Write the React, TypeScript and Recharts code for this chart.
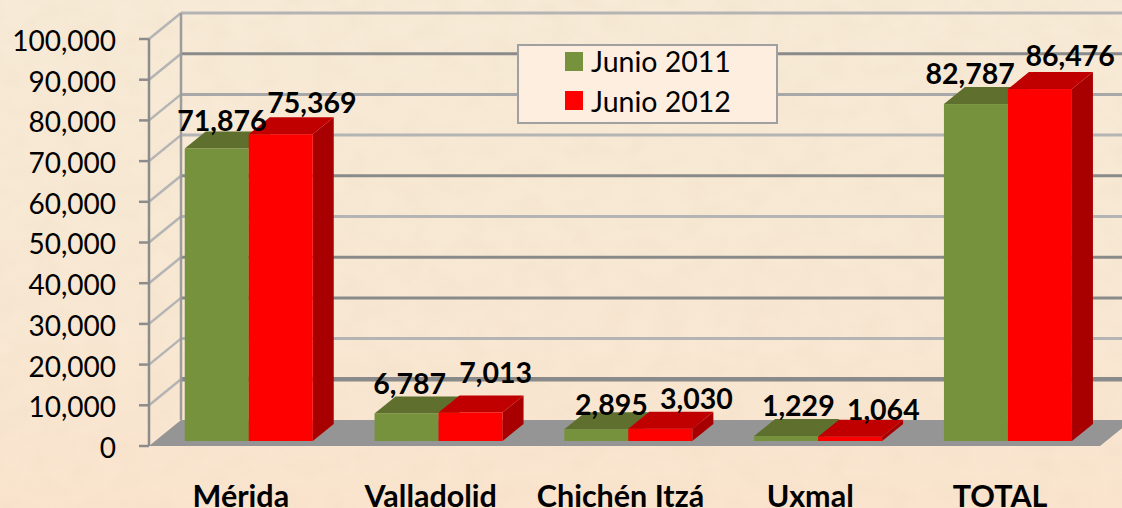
import { ComposedChart, Bar, Line, XAxis, YAxis, CartesianGrid, Legend, LabelList } from 'recharts'

const categories = ['Mérida', 'Valladolid', 'Chichén Itzá', 'Uxmal', 'TOTAL']
const junio2011 = [71876, 6787, 2895, 1229, 82787]
const junio2012 = [75369, 7013, 3030, 1064, 86476]
const yTicks = [0, 10000, 20000, 30000, 40000, 50000, 60000, 70000, 80000, 90000, 100000]

const rows = categories.map((name, i) => ({ name, a: junio2011[i], b: junio2012[i] }))

// label nudges from the bar group centre, the source chart placed these by hand
const nudge2011 = [[-22, -33], [-24, -35], [-12, -30], [-15, -36], [-33, -36]]
const nudge2012 = [[68, -37], [62, -45], [73, -36], [70, -33], [67, -39]]

const FONT = 'Lato, sans-serif'
const WALL_DX = 32
const WALL_DY = -26
const GRID_COLORS = ['#a8a8a8', '#8a8a8a', '#b4b4b4', '#8a8a8a', '#8a8a8a', '#b4b4b4', '#8a8a8a', '#b4b4b4', '#a8a8a8', '#8a8a8a', '#b4b4b4']

function GridLine(props: any) {
  const { x1, x2, y1, index } = props
  const isFloor = Math.abs(y1 - 446) < 1
  const isTop = Math.abs(y1 - 39) < 1
  const level = Math.round((446 - y1) / 40.7)
  const color = GRID_COLORS[level] ?? '#a0a0a0'
  return (
    <g key={index}>
      {isFloor && (
        <polygon
          points={`${x1},${y1} ${x2 + 2},${y1} ${x2 + 2 + WALL_DX},${y1 + WALL_DY} ${x1 + WALL_DX},${y1 + WALL_DY}`}
          fill="#959595"
        />
      )}
      {!isFloor && <line x1={x1 + WALL_DX} y1={y1 + WALL_DY} x2={1122} y2={y1 + WALL_DY} stroke={color} strokeWidth={level === 1 ? 4.5 : 3} />}
      {!isFloor && <line x1={x1} y1={y1} x2={x1 + WALL_DX} y2={y1 + WALL_DY} stroke="#b4b4b4" strokeWidth={2.5} />}
      {isTop && <line x1={x1 + WALL_DX} y1={y1 + WALL_DY} x2={x1 + WALL_DX} y2={446 + WALL_DY} stroke="#9c9c9c" strokeWidth={2.5} />}
    </g>
  )
}

function Box3D(props: any) {
  const { x, y, width, height, fill, topFill, sideFill } = props
  const dx = 21
  const dy = -17
  const fx = x + 5
  const fy = y - 5
  return (
    <g>
      <polygon points={`${fx + width},${fy} ${fx + width + dx},${fy + dy} ${fx + width + dx},${fy + height + dy} ${fx + width},${fy + height}`} fill={sideFill} />
      <polygon points={`${fx},${fy} ${fx + dx},${fy + dy} ${fx + width + dx},${fy + dy} ${fx + width},${fy}`} fill={topFill} />
      <rect x={fx} y={fy} width={width} height={height} fill={fill} />
    </g>
  )
}

function valueLabel(nudges: number[][]) {
  return (props: any) => {
    const { x, y, value, index } = props
    const [ndx, ndy] = nudges[index]
    return (
      <text x={x + ndx} y={y + ndy} textAnchor="middle" dominantBaseline="central" fontFamily={FONT} fontWeight={700} fontSize={28.5} fill="#000">
        {Number(value).toLocaleString('en-US')}
      </text>
    )
  }
}

function LegendBox() {
  const items = [
    { label: 'Junio 2011', color: '#76923c' },
    { label: 'Junio 2012', color: '#ff0000' },
  ]
  return (
    <div style={{ width: 257, height: 76, background: '#fdeee0', border: '2.5px solid #a0a0a0', position: 'relative', fontFamily: FONT, fontSize: 28.5, color: '#000' }}>
      {items.map((it, i) => (
        <div key={it.label} style={{ position: 'absolute', left: 46, top: 0 + i * 39.5, height: 30, display: 'flex', alignItems: 'center' }}>
          <span style={{ width: 18, height: 19, background: it.color, marginRight: 8 }} />
          <span>{it.label}</span>
        </div>
      ))}
    </div>
  )
}

// faint mottling for the parchment page behind the chart
function Parchment() {
  return (
    <svg width={1122} height={508} style={{ position: 'absolute', left: 0, top: 0 }}>
      <filter id="mottle">
        <feTurbulence type="fractalNoise" baseFrequency="0.035 0.05" numOctaves={3} seed={4} />
        <feColorMatrix values="0 0 0 0 0.72  0 0 0 0 0.58  0 0 0 0 0.40  0 0 0 0.55 -0.2" />
      </filter>
      <rect width={1122} height={508} filter="url(#mottle)" opacity={0.35} />
    </svg>
  )
}

export default function App() {
  return (
    <div style={{ position: 'absolute', left: 0, top: 0, width: 1122, height: 508, overflow: 'hidden', background: 'linear-gradient(180deg, #f7ead6 0%, #f8e8d3 60%, #fae4ce 100%)' }}>
      <Parchment />
      <ComposedChart width={1122} height={508} data={rows} margin={{ top: 39, right: 24, bottom: 0, left: 0 }} barGap={0} barCategoryGap="16.2%">
        <CartesianGrid vertical={false} horizontal={GridLine as any} />
        <XAxis dataKey="name" height={62} axisLine={false} tickLine={false} interval={0} dx={-3} dy={31} tick={{ fontFamily: FONT, fontWeight: 700, fontSize: 30.5, fill: '#000' }} />
        <YAxis
          width={149}
          domain={[0, 100000]}
          ticks={yTicks}
          interval={0}
          tickFormatter={(v: number) => v.toLocaleString('en-US')}
          stroke="#8c8c8c"
          strokeWidth={2.5}
          tickSize={10}
          tickMargin={23}
          dy={2}
          tick={{ fontFamily: FONT, fontSize: 28, fill: '#000', stroke: 'none' }}
        />
        <Legend layout="horizontal" verticalAlign="middle" align="center" content={<LegendBox />} wrapperStyle={{ left: 517, top: 44, width: 262 }} />
        <Bar dataKey="a" name="Junio 2011" fill="#76923c" shape={<Box3D topFill="#5e6f2e" sideFill="#4f5e26" />} isAnimationActive={false} />
        <Bar dataKey="b" name="Junio 2012" fill="#ff0000" shape={<Box3D topFill="#c00000" sideFill="#a80000" />} isAnimationActive={false} />
        <Line dataKey="a" stroke="none" dot={false} activeDot={false} legendType="none" isAnimationActive={false}>
          <LabelList dataKey="a" content={valueLabel(nudge2011) as any} />
        </Line>
        <Line dataKey="b" stroke="none" dot={false} activeDot={false} legendType="none" isAnimationActive={false}>
          <LabelList dataKey="b" content={valueLabel(nudge2012) as any} />
        </Line>
      </ComposedChart>
    </div>
  )
}
